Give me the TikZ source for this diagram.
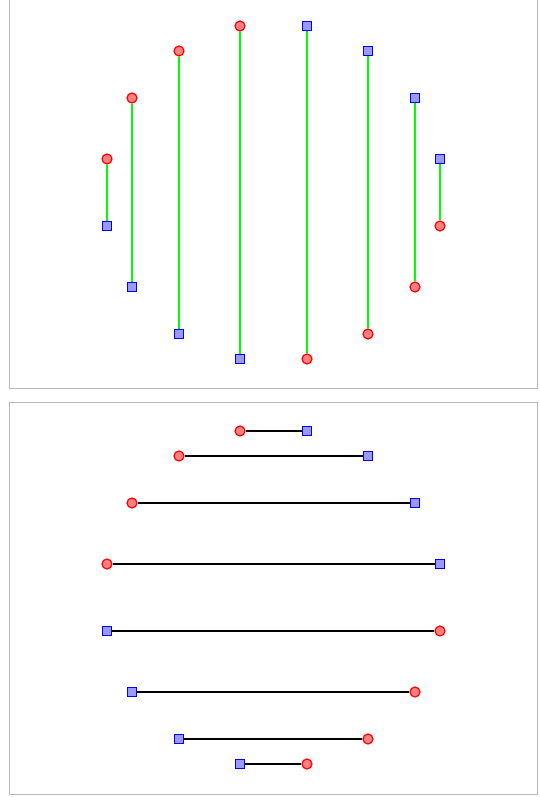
\documentclass[tikz,border=0pt]{standalone}
\usetikzlibrary{shapes,positioning}

\begin{document}
\begin{tikzpicture}[x=1pt,y=-1pt]
\useasboundingbox (0,0) rectangle (539,797);
\begin{scope}
\tikzstyle{frame}=[draw=black!28, line width=1pt]
\tikzstyle{redpt}=[draw=red, fill=red!50, circle, minimum size=10pt, inner sep=0pt, line width=1.2pt]
\tikzstyle{bluept}=[draw=blue, fill=blue!40, rectangle, minimum size=9pt, inner sep=0pt, line width=1.2pt]
\tikzstyle{vline}=[draw=green, line width=2pt]
\tikzstyle{hline}=[draw=black, line width=2pt]
\draw[frame] (9.5,-4) rectangle (537.5,388);
\draw[frame] (9.5,402) rectangle (537.5,794);
% top panel
\node[redpt] (tr1) at (107,159) {};
\node[bluept] (tb1) at (107,226) {};
\node[redpt] (tr2) at (132,98) {};
\node[bluept] (tb2) at (132,287) {};
\node[redpt] (tr3) at (179,51) {};
\node[bluept] (tb3) at (179,334) {};
\node[redpt] (tr4) at (240,26) {};
\node[bluept] (tb4) at (240,359) {};
\node[bluept] (tb5) at (307,26) {};
\node[redpt] (tr5) at (307,359) {};
\node[bluept] (tb6) at (368,51) {};
\node[redpt] (tr6) at (368,334) {};
\node[bluept] (tb7) at (415,98) {};
\node[redpt] (tr7) at (415,287) {};
\node[bluept] (tb8) at (440,159) {};
\node[redpt] (tr8) at (440,226) {};
\draw[vline] (tr1) -- (tb1);
\draw[vline] (tr2) -- (tb2);
\draw[vline] (tr3) -- (tb3);
\draw[vline] (tr4) -- (tb4);
\draw[vline] (tb5) -- (tr5);
\draw[vline] (tb6) -- (tr6);
\draw[vline] (tb7) -- (tr7);
\draw[vline] (tb8) -- (tr8);
% bottom panel
\node[redpt] (br1) at (240,431) {};
\node[bluept] (bb1) at (307,431) {};
\node[redpt] (br2) at (179,456) {};
\node[bluept] (bb2) at (368,456) {};
\node[redpt] (br3) at (132,503) {};
\node[bluept] (bb3) at (415,503) {};
\node[redpt] (br4) at (107,564) {};
\node[bluept] (bb4) at (440,564) {};
\node[bluept] (bb5) at (107,631) {};
\node[redpt] (br5) at (440,631) {};
\node[bluept] (bb6) at (132,692) {};
\node[redpt] (br6) at (415,692) {};
\node[bluept] (bb7) at (179,739) {};
\node[redpt] (br7) at (368,739) {};
\node[bluept] (bb8) at (240,764) {};
\node[redpt] (br8) at (307,764) {};
\draw[hline] (br1) -- (bb1);
\draw[hline] (br2) -- (bb2);
\draw[hline] (br3) -- (bb3);
\draw[hline] (br4) -- (bb4);
\draw[hline] (bb5) -- (br5);
\draw[hline] (bb6) -- (br6);
\draw[hline] (bb7) -- (br7);
\draw[hline] (bb8) -- (br8);
\end{scope}
\end{tikzpicture}
\end{document}
